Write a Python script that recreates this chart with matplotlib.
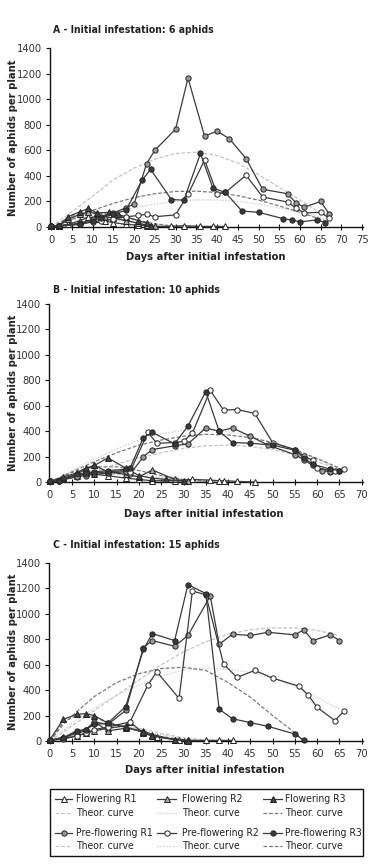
import os
import matplotlib
matplotlib.use("Agg")
import matplotlib.pyplot as plt
from matplotlib import font_manager as fm
from matplotlib.lines import Line2D
from matplotlib.patches import Rectangle

# ---------------- DATA ----------------
# Panel A - initial infestation 6 aphids
A_fr1_days = [0, 2, 4, 7, 9, 11, 13, 15, 18, 21, 23, 24, 29, 32, 36, 39, 42]
A_fr1_vals = [5, 8, 20, 50, 80, 60, 45, 35, 20, 15, 10, 5, 5, 10, 5, 5, 5]
A_fr2_days = [0, 2, 4, 7, 9, 11, 13, 15, 18, 21, 23, 25]
A_fr2_vals = [5, 10, 60, 100, 120, 100, 80, 70, 50, 30, 15, 5]
A_fr3_days = [0, 2, 4, 7, 9, 11, 14, 16, 18, 21, 23, 24]
A_fr3_vals = [5, 10, 80, 120, 145, 110, 115, 100, 80, 50, 30, 10]
A_pr1_days = [0, 2, 7, 10, 12, 15, 18, 20, 23, 25, 30, 33, 37, 40, 43, 47, 51, 57, 59, 61, 65, 67]
A_pr1_vals = [5, 10, 30, 60, 80, 110, 150, 180, 495, 600, 765, 1165, 710, 750, 690, 535, 295, 260, 190, 155, 200, 105]
A_pr2_days = [0, 2, 7, 10, 12, 15, 18, 21, 23, 25, 30, 33, 37, 40, 42, 47, 51, 57, 59, 61, 65, 67]
A_pr2_vals = [5, 8, 20, 40, 50, 60, 80, 90, 100, 80, 95, 255, 525, 260, 270, 405, 235, 195, 150, 110, 115, 70]
A_pr3_days = [0, 2, 7, 10, 12, 15, 18, 22, 24, 29, 32, 36, 39, 42, 46, 50, 56, 58, 60, 64, 66]
A_pr3_vals = [5, 8, 25, 50, 70, 100, 130, 370, 450, 215, 210, 575, 305, 270, 125, 115, 65, 55, 40, 55, 35]
A_tf1_days = [0, 5, 10, 15, 20, 25, 30, 35]
A_tf1_vals = [0, 60, 80, 60, 35, 15, 5, 0]
A_tf2_days = [0, 5, 10, 15, 20, 25, 30, 35]
A_tf2_vals = [0, 70, 95, 75, 45, 20, 5, 0]
A_tf3_days = [0, 5, 10, 15, 20, 25, 30, 35]
A_tf3_vals = [0, 85, 115, 95, 60, 25, 5, 0]
A_tp1_days = [0, 5, 10, 15, 20, 25, 30, 35, 40, 45, 50, 55, 60, 65, 67]
A_tp1_vals = [0, 120, 240, 370, 460, 530, 575, 585, 560, 500, 410, 310, 210, 110, 75]
A_tp2_days = [0, 5, 10, 15, 20, 25, 30, 35, 40, 45, 50, 55, 60, 65, 67]
A_tp2_vals = [0, 30, 70, 110, 150, 180, 200, 212, 212, 200, 180, 150, 115, 75, 60]
A_tp3_days = [0, 5, 10, 15, 20, 25, 30, 35, 40, 45, 50, 55, 60, 65, 67]
A_tp3_vals = [0, 60, 130, 185, 230, 260, 278, 280, 270, 245, 210, 165, 115, 60, 40]

# Panel B - initial infestation 10 aphids
B_fr1_days = [0, 3, 6, 8, 10, 13, 17, 20, 23, 28, 32, 36, 38, 39, 42, 46]
B_fr1_vals = [5, 20, 50, 70, 60, 50, 30, 20, 10, 10, 20, 15, 10, 10, 5, 0]
B_fr2_days = [0, 3, 6, 8, 10, 13, 17, 20, 23, 28, 31]
B_fr2_vals = [5, 30, 60, 100, 130, 80, 60, 40, 95, 20, 5]
B_fr3_days = [0, 3, 6, 8, 10, 13, 17, 20, 23, 26, 30]
B_fr3_vals = [5, 40, 70, 110, 130, 190, 110, 50, 30, 20, 5]
B_pr1_days = [0, 2, 6, 8, 10, 13, 17, 18, 21, 23, 28, 31, 35, 38, 41, 45, 49, 55, 57, 59, 61, 63, 65]
B_pr1_vals = [5, 10, 40, 50, 60, 70, 80, 60, 200, 255, 285, 300, 425, 400, 425, 360, 290, 215, 175, 130, 90, 80, 85]
B_pr2_days = [0, 2, 6, 8, 10, 13, 17, 18, 22, 24, 28, 30, 32, 36, 39, 42, 46, 50, 55, 57, 59, 60, 63, 64, 66]
B_pr2_vals = [5, 10, 50, 60, 70, 80, 90, 80, 390, 305, 310, 320, 385, 720, 565, 570, 540, 310, 255, 205, 170, 110, 90, 85, 105]
B_pr3_days = [0, 2, 6, 8, 10, 13, 17, 18, 21, 23, 28, 31, 35, 38, 41, 45, 50, 55, 57, 59, 63, 65]
B_pr3_vals = [5, 10, 60, 70, 80, 90, 100, 110, 350, 390, 300, 440, 710, 400, 310, 305, 290, 250, 190, 140, 100, 90]
B_tf1_days = [0, 5, 10, 15, 20, 25, 30, 35, 40]
B_tf1_vals = [0, 40, 65, 60, 45, 30, 15, 5, 0]
B_tf2_days = [0, 5, 10, 15, 20, 25, 30, 35]
B_tf2_vals = [0, 60, 95, 90, 65, 35, 15, 5]
B_tf3_days = [0, 5, 10, 15, 20, 25, 30, 35]
B_tf3_vals = [0, 75, 120, 120, 90, 50, 20, 5]
B_tp1_days = [0, 5, 10, 15, 20, 25, 30, 35, 40, 45, 50, 55, 60, 65]
B_tp1_vals = [0, 40, 90, 140, 190, 230, 265, 285, 290, 280, 255, 215, 160, 100]
B_tp2_days = [0, 5, 10, 15, 20, 25, 30, 35, 40, 45, 50, 55, 60, 65]
B_tp2_vals = [0, 90, 180, 260, 330, 380, 405, 410, 395, 360, 310, 250, 180, 105]
B_tp3_days = [0, 5, 10, 15, 20, 25, 30, 35, 40, 45, 50, 55, 60, 65]
B_tp3_vals = [0, 80, 160, 230, 290, 330, 360, 375, 370, 350, 310, 255, 185, 110]

# Panel C - initial infestation 15 aphids
C_fr1_days = [0, 3, 6, 8, 10, 13, 17, 18, 21, 24, 29, 31, 35, 38, 41]
C_fr1_vals = [5, 20, 40, 60, 80, 100, 120, 150, 60, 30, 10, 5, 5, 5, 5]
C_fr2_days = [0, 3, 6, 8, 10, 13, 17, 21, 23, 28, 31]
C_fr2_vals = [5, 30, 60, 80, 150, 80, 100, 80, 50, 10, 5]
C_fr3_days = [0, 3, 6, 8, 10, 13, 17, 21, 23, 28, 31]
C_fr3_vals = [10, 170, 210, 215, 200, 140, 110, 70, 40, 10, 0]
C_pr1_days = [0, 3, 6, 8, 10, 13, 17, 21, 23, 28, 31, 36, 38, 41, 45, 49, 55, 57, 59, 63, 65]
C_pr1_vals = [5, 20, 70, 90, 150, 130, 240, 735, 790, 745, 830, 1140, 760, 840, 830, 855, 835, 875, 790, 835, 790]
C_pr2_days = [0, 3, 6, 8, 10, 13, 18, 22, 24, 29, 32, 35, 39, 42, 46, 50, 56, 58, 60, 64, 66]
C_pr2_vals = [5, 15, 40, 60, 90, 110, 150, 440, 545, 335, 1180, 1150, 605, 500, 555, 495, 430, 360, 265, 160, 235]
C_pr3_days = [0, 3, 6, 8, 10, 13, 17, 21, 23, 28, 31, 35, 38, 41, 45, 49, 55, 57]
C_pr3_vals = [5, 25, 80, 90, 130, 140, 270, 720, 845, 790, 1230, 1160, 250, 175, 145, 115, 55, 5]
C_tf1_days = [0, 5, 10, 15, 20, 25, 30, 35, 40]
C_tf1_vals = [0, 40, 80, 110, 100, 60, 25, 8, 0]
C_tf2_days = [0, 5, 10, 15, 20, 25, 30, 35]
C_tf2_vals = [0, 70, 120, 130, 95, 50, 15, 0]
C_tf3_days = [0, 3, 6, 10, 15, 20, 25, 30, 35]
C_tf3_vals = [0, 150, 200, 185, 130, 75, 35, 10, 0]
C_tp1_days = [0, 5, 10, 15, 20, 25, 30, 35, 40, 45, 50, 55, 60, 65]
C_tp1_vals = [0, 120, 240, 360, 480, 600, 700, 780, 840, 875, 890, 890, 870, 830]
C_tp2_days = [0, 5, 10, 15, 20, 25, 30, 35, 40, 45, 50, 55, 60, 65]
C_tp2_vals = [0, 140, 260, 360, 440, 510, 560, 575, 565, 540, 495, 430, 345, 250]
C_tp3_days = [0, 3, 6, 10, 15, 20, 25, 30, 35, 40, 45, 50, 55, 57]
C_tp3_vals = [0, 130, 230, 350, 460, 530, 570, 580, 555, 460, 345, 200, 65, 0]

panel_titles = ["A - Initial infestation: 6 aphids",
                "B - Initial infestation: 10 aphids",
                "C - Initial infestation: 15 aphids"]
y_ticks = [0, 200, 400, 600, 800, 1000, 1200, 1400]
x_ticks_A = list(range(0, 80, 5))
x_ticks_BC = list(range(0, 75, 5))
x_label = "Days after initial infestation"
y_label = "Number of aphids per plant"
legend_labels = ["Flowering R1", "Flowering R2", "Flowering R3",
                 "Pre-flowering R1", "Pre-flowering R2", "Pre-flowering R3"]
theo_label = "Theor. curve"

# ---------------- FONTS ----------------
sysfonts = {os.path.basename(f): f for f in fm.findSystemFonts()}
for f in fm.fontManager.ttflist:
    sysfonts.setdefault(os.path.basename(f.fname), f.fname)
cands = [("LiberationSansNarrow-Regular.ttf", "LiberationSansNarrow-Bold.ttf"),
         ("DejaVuSansCondensed.ttf", "DejaVuSansCondensed-Bold.ttf"),
         ("RobotoCondensed-Regular.ttf", "RobotoCondensed-Bold.ttf"),
         ("OpenSans_Condensed-Regular.ttf", "OpenSans_Condensed-Bold.ttf")]
FP_REG = FP_BOLD = None
NARROW = False
for r, b in cands:
    if r in sysfonts and b in sysfonts:
        FP_REG = fm.FontProperties(fname=sysfonts[r])
        FP_BOLD = fm.FontProperties(fname=sysfonts[b])
        NARROW = True
        break
if FP_REG is None:
    FP_REG = fm.FontProperties(family="Liberation Sans")
    FP_BOLD = fm.FontProperties(family="Liberation Sans", weight="bold")
plt.rcParams["font.family"] = ["Liberation Sans", "DejaVu Sans"]

TICK_FS = 8 if NARROW else 6.8
TITLE_FS = 7.5 if NARROW else 6.4
LAB_FS = 8 if NARROW else 6.9
LEG_FS = 7.5 if NARROW else 6.6


def fp(base, size):
    p = base.copy()
    p.set_size(size)
    return p


# ---------------- STYLE ----------------
LINEC = "#3a3a3a"
EDGE = "#222222"
series_style = {
    "fr1": dict(marker="^", mfc="white"),
    "fr2": dict(marker="^", mfc="#aaaaaa"),
    "fr3": dict(marker="^", mfc="#444444"),
    "pr1": dict(marker="o", mfc="#999999"),
    "pr2": dict(marker="o", mfc="white"),
    "pr3": dict(marker="o", mfc="#3a3a3a"),
}
theo_style = {
    1: dict(color="#c4c4c4", ls=(0, (3, 1.5)), lw=0.9),
    2: dict(color="#d0d0d0", ls=(0, (1.2, 1.2)), lw=0.9),
    3: dict(color="#7a7a7a", ls=(0, (3, 1.5)), lw=0.9),
}

W, H = 373, 864
fig = plt.figure(figsize=(W / 100, H / 100), dpi=100)


def fx(px):
    return px / W


def fy(py):
    return 1 - py / H


panels = [
    dict(top=48, bot=227, left=49.5, right=363, xlim=(-0.4, 75.2), xt=x_ticks_A,
         title_y=30, xl_y=257, xl_x=206,
         data=dict(fr1=(A_fr1_days, A_fr1_vals), fr2=(A_fr2_days, A_fr2_vals), fr3=(A_fr3_days, A_fr3_vals),
                   pr1=(A_pr1_days, A_pr1_vals), pr2=(A_pr2_days, A_pr2_vals), pr3=(A_pr3_days, A_pr3_vals)),
         theo=[(A_tf1_days, A_tf1_vals, 1), (A_tf2_days, A_tf2_vals, 2), (A_tf3_days, A_tf3_vals, 3),
               (A_tp1_days, A_tp1_vals, 1), (A_tp2_days, A_tp2_vals, 2), (A_tp3_days, A_tp3_vals, 3)]),
    dict(top=304, bot=482, left=49, right=363, xlim=(-0.2, 70.3), xt=x_ticks_BC,
         title_y=290, xl_y=514, xl_x=204,
         data=dict(fr1=(B_fr1_days, B_fr1_vals), fr2=(B_fr2_days, B_fr2_vals), fr3=(B_fr3_days, B_fr3_vals),
                   pr1=(B_pr1_days, B_pr1_vals), pr2=(B_pr2_days, B_pr2_vals), pr3=(B_pr3_days, B_pr3_vals)),
         theo=[(B_tf1_days, B_tf1_vals, 1), (B_tf2_days, B_tf2_vals, 2), (B_tf3_days, B_tf3_vals, 3),
               (B_tp1_days, B_tp1_vals, 1), (B_tp2_days, B_tp2_vals, 2), (B_tp3_days, B_tp3_vals, 3)]),
    dict(top=563, bot=741, left=49, right=363, xlim=(-0.2, 70.3), xt=x_ticks_BC,
         title_y=545, xl_y=770, xl_x=205,
         data=dict(fr1=(C_fr1_days, C_fr1_vals), fr2=(C_fr2_days, C_fr2_vals), fr3=(C_fr3_days, C_fr3_vals),
                   pr1=(C_pr1_days, C_pr1_vals), pr2=(C_pr2_days, C_pr2_vals), pr3=(C_pr3_days, C_pr3_vals)),
         theo=[(C_tf1_days, C_tf1_vals, 1), (C_tf2_days, C_tf2_vals, 2), (C_tf3_days, C_tf3_vals, 3),
               (C_tp1_days, C_tp1_vals, 1), (C_tp2_days, C_tp2_vals, 2), (C_tp3_days, C_tp3_vals, 3)]),
]

for i, p in enumerate(panels):
    ax = fig.add_axes([fx(p["left"]), fy(p["bot"]), fx(p["right"] - p["left"]), (p["bot"] - p["top"]) / H])
    for d, v, k in p["theo"]:
        ax.plot(d, v, **theo_style[k], zorder=1)
    for key in ["fr1", "fr2", "fr3", "pr1", "pr2", "pr3"]:
        d, v = p["data"][key]
        st = series_style[key]
        ms = 4.2 if st["marker"] == "^" else 3.8
        ax.plot(d, v, color=LINEC, lw=0.9, marker=st["marker"], ms=ms, mfc=st["mfc"],
                mec=EDGE, mew=0.7, zorder=3, clip_on=False)
    ax.set_xlim(*p["xlim"])
    ax.set_ylim(0, 1400)
    ax.set_xticks(p["xt"])
    ax.set_yticks(y_ticks)
    for s in ["top", "right"]:
        ax.spines[s].set_visible(False)
    for s in ["left", "bottom"]:
        ax.spines[s].set_linewidth(1.0)
        ax.spines[s].set_color("#111111")
    ax.tick_params(axis="both", colors="#111111", length=3, width=0.8, pad=2.5)
    ax.tick_params(axis="x", direction="inout", length=4, pad=4)
    for lab in ax.get_xticklabels() + ax.get_yticklabels():
        lab.set_fontproperties(fp(FP_REG, TICK_FS))
        lab.set_color("#333333")
    fig.text(fx(53), fy(p["title_y"]), panel_titles[i], fontproperties=fp(FP_BOLD, TITLE_FS),
             ha="left", va="center", color="#222222")
    fig.text(fx(p["xl_x"]), fy(p["xl_y"]), x_label, fontproperties=fp(FP_BOLD, LAB_FS),
             ha="center", va="center", color="#222222")
    fig.text(fx(13), fy((p["top"] + p["bot"]) / 2), y_label, fontproperties=fp(FP_BOLD, LAB_FS),
             ha="center", va="center", rotation=90, color="#222222")

# ---------------- LEGEND (drawn in figure coords) ----------------
fig.add_artist(Rectangle((fx(50), fy(856)), fx(313), (856 - 789) / H, transform=fig.transFigure,
                         fill=False, edgecolor="#111111", lw=1.0))
col_handle_x = [(55, 72), (157, 176), (263, 282)]
col_text_x = [76, 182, 285]
row_y = [799, 813, 833, 846]
keys = ["fr1", "fr2", "fr3", "pr1", "pr2", "pr3"]
for idx, key in enumerate(keys):
    c = idx % 3
    r = 0 if idx < 3 else 2
    x0, x1 = col_handle_x[c]
    st = series_style[key]
    y = fy(row_y[r])
    fig.add_artist(Line2D([fx(x0), fx(x1)], [y, y], transform=fig.transFigure, color=LINEC, lw=0.9))
    ms = 4.2 if st["marker"] == "^" else 3.8
    fig.add_artist(Line2D([fx((x0 + x1) / 2)], [y], transform=fig.transFigure, lw=0,
                          marker=st["marker"], ms=ms, mfc=st["mfc"], mec=EDGE, mew=0.7))
    fig.text(fx(col_text_x[c]), y, legend_labels[idx], fontproperties=fp(FP_REG, LEG_FS),
             ha="left", va="center", color="#222222")
    ty = fy(row_y[r + 1])
    fig.add_artist(Line2D([fx(x0), fx(x1)], [ty, ty], transform=fig.transFigure, **theo_style[c + 1]))
    fig.text(fx(col_text_x[c]), ty, theo_label, fontproperties=fp(FP_REG, LEG_FS),
             ha="left", va="center", color="#222222")

fig.savefig("out.png", dpi=100)
